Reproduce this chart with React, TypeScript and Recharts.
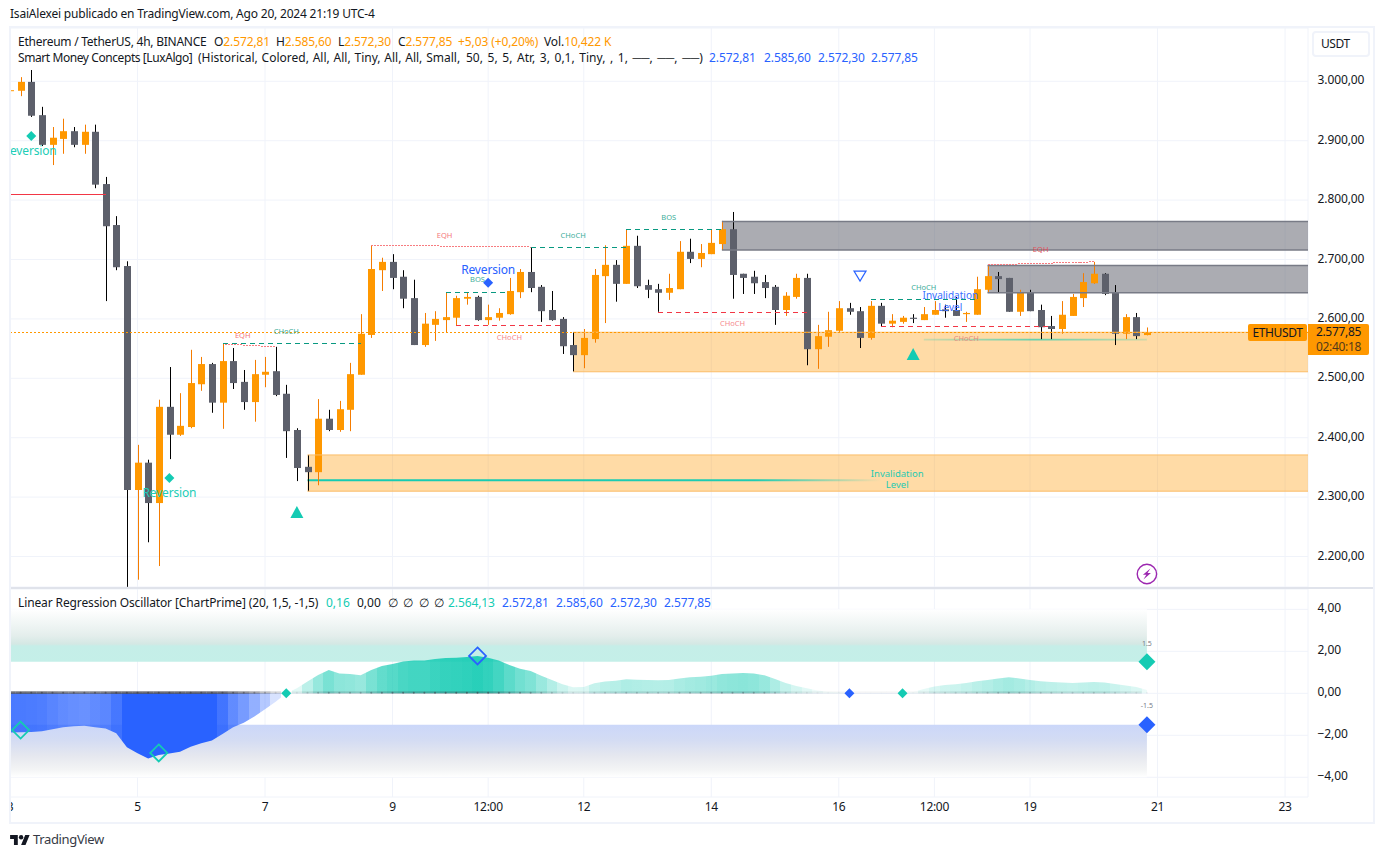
import {
  Area,
  Bar,
  CartesianGrid,
  ComposedChart,
  Line,
  ReferenceArea,
  ReferenceDot,
  ReferenceLine,
  XAxis,
  YAxis,
} from 'recharts';

const opens = [
  2984, 2984, 2999, 2943, 2893, 2903, 2916, 2893, 2915, 2827, 2758, 2689, 2312, 2358, 2290, 2452, 2405, 2418,
  2490, 2524, 2459, 2529, 2494, 2460, 2506, 2512, 2474, 2413, 2351, 2342, 2432, 2413, 2447, 2506, 2573, 2682,
  2696, 2671, 2635, 2556, 2590, 2598, 2602, 2634, 2637, 2598, 2602, 2608, 2645, 2679, 2654, 2615, 2600, 2556,
  2539, 2566, 2672, 2691, 2659, 2723, 2657, 2650, 2644, 2650, 2713, 2701, 2709, 2726, 2751, 2676, 2671, 2662,
  2654, 2615, 2637, 2669, 2549, 2570, 2580, 2618, 2613, 2568, 2622, 2592, 2595, 2602, 2598, 2607, 2616, 2615,
  2608, 2607, 2649, 2672, 2669, 2612, 2645, 2615, 2588, 2583, 2605, 2635, 2660, 2676, 2644, 2575, 2603, 2572.81,
];
const highs = [
  2997, 3007, 3019, 2957, 2923, 2937, 2923, 2927, 2927, 2839, 2773, 2697, 2388, 2363, 2464, 2519, 2475, 2548,
  2536, 2526, 2558, 2551, 2514, 2531, 2536, 2553, 2489, 2416, 2371, 2465, 2447, 2462, 2526, 2608, 2724, 2703,
  2709, 2682, 2666, 2610, 2613, 2645, 2639, 2644, 2639, 2624, 2618, 2669, 2684, 2721, 2657, 2647, 2603, 2578,
  2583, 2684, 2724, 2699, 2751, 2740, 2666, 2659, 2676, 2731, 2735, 2726, 2751, 2765, 2780, 2676, 2681, 2674,
  2657, 2645, 2676, 2676, 2590, 2612, 2630, 2627, 2620, 2630, 2627, 2608, 2605, 2608, 2620, 2630, 2624, 2637,
  2612, 2671, 2691, 2679, 2669, 2649, 2649, 2624, 2605, 2630, 2642, 2677, 2696, 2677, 2657, 2608, 2610, 2585.6,
];
const lows = [
  2962, 2975, 2940, 2891, 2859, 2878, 2889, 2878, 2820, 2630, 2682, 2149, 2161, 2224, 2184, 2364, 2403, 2416,
  2479, 2442, 2415, 2482, 2447, 2427, 2485, 2470, 2366, 2327, 2310, 2320, 2411, 2410, 2411, 2506, 2568, 2647,
  2650, 2618, 2556, 2553, 2563, 2578, 2588, 2624, 2597, 2590, 2597, 2607, 2635, 2645, 2595, 2597, 2541, 2511,
  2517, 2560, 2593, 2629, 2659, 2652, 2635, 2612, 2632, 2650, 2694, 2687, 2709, 2716, 2634, 2642, 2642, 2635,
  2590, 2605, 2634, 2522, 2516, 2553, 2578, 2607, 2551, 2565, 2588, 2586, 2592, 2593, 2598, 2607, 2602, 2605,
  2595, 2607, 2644, 2645, 2612, 2605, 2613, 2566, 2566, 2575, 2605, 2620, 2659, 2640, 2556, 2566, 2566, 2572.3,
];
const closes = [
  2985, 2999, 2942, 2893, 2905, 2916, 2893, 2915, 2826, 2756, 2687, 2312, 2358, 2290, 2452, 2405, 2420, 2492,
  2524, 2459, 2529, 2492, 2460, 2507, 2511, 2472, 2411, 2349, 2342, 2432, 2413, 2448, 2507, 2575, 2684, 2696,
  2669, 2634, 2556, 2592, 2600, 2603, 2635, 2637, 2598, 2603, 2610, 2647, 2679, 2652, 2613, 2598, 2554, 2539,
  2568, 2674, 2691, 2659, 2723, 2655, 2649, 2644, 2652, 2713, 2701, 2711, 2728, 2751, 2674, 2669, 2660, 2652,
  2615, 2639, 2669, 2549, 2571, 2581, 2618, 2612, 2568, 2622, 2592, 2597, 2602, 2600, 2608, 2615, 2613, 2605,
  2610, 2650, 2672, 2667, 2612, 2645, 2613, 2586, 2583, 2607, 2637, 2662, 2676, 2642, 2575, 2603, 2571, 2577.85,
];
const oscillator = [
  -1.87, -1.86, -1.84, -1.81, -1.71, -1.62, -1.57, -1.54, -1.62, -1.68, -1.9, -2.57, -2.86, -3.11, -2.94, -2.87,
  -2.78, -2.54, -2.38, -2.25, -1.94, -1.62, -1.4, -1.11, -0.76, -0.4, 0, 0.24, 0.56, 0.87, 1.11, 0.95, 0.92, 0.86,
  1.11, 1.3, 1.4, 1.51, 1.56, 1.56, 1.63, 1.68, 1.7, 1.73, 1.78, 1.7, 1.56, 1.35, 1.17, 1.06, 0.84, 0.63, 0.43,
  0.29, 0.3, 0.48, 0.56, 0.6, 0.67, 0.65, 0.63, 0.62, 0.63, 0.71, 0.76, 0.79, 0.84, 0.92, 0.95, 0.97, 0.94, 0.86,
  0.68, 0.49, 0.35, 0.24, 0.14, 0.08, 0.06, 0.02, -0.02, -0.03, -0.03, -0.02, 0, 0.06, 0.21, 0.33, 0.4, 0.43, 0.49,
  0.57, 0.63, 0.71, 0.76, 0.71, 0.63, 0.57, 0.54, 0.51, 0.49, 0.52, 0.54, 0.52, 0.44, 0.37, 0.3, 0.16,
];

const timeLabels: Record<number, string> = {
  0: '3', 12: '5', 24: '7', 36: '9', 45: '12:00', 54: '12', 66: '14', 78: '16', 87: '12:00', 96: '19', 108: '21', 120: '23',
};
const timeTicks = Object.keys(timeLabels).map(Number);
const priceTicks = [2200, 2300, 2400, 2500, 2600, 2700, 2800, 2900, 3000];
const oscTicks = [-4, -2, 0, 2, 4];

const LAST = 107;
const X_MAX = 122.16;
const LAST_PRICE = 2577.85;

// supply / demand boxes
const grayZones = [
  { from: 67, top: 2764, bottom: 2716 },
  { from: 92, top: 2690, bottom: 2644 },
];
const orangeZones = [
  { from: 53, top: 2577.5, bottom: 2511 },
  { from: 28, top: 2371, bottom: 2310 },
];

const TEAL = '#089981';
const RED = '#f23645';
const PINK = '#f77c80';
const levels = [
  { from: 0, to: 9, a: 2810, b: 2810, color: RED, dash: undefined },
  { from: 20, to: 25, a: 2558, b: 2553, color: PINK, dash: '2 1' },
  { from: 20, to: 33, a: 2558, b: 2558, color: TEAL, dash: '5 4' },
  { from: 34, to: 49, a: 2724, b: 2721, color: PINK, dash: '2 1' },
  { from: 49, to: 58, a: 2721, b: 2721, color: TEAL, dash: '5 4' },
  { from: 58, to: 67, a: 2751, b: 2751, color: TEAL, dash: '5 4' },
  { from: 41, to: 47, a: 2645, b: 2645, color: TEAL, dash: '5 4' },
  { from: 42, to: 52, a: 2589, b: 2589, color: RED, dash: '5 4' },
  { from: 61, to: 75, a: 2611, b: 2611, color: RED, dash: '5 4' },
  { from: 81, to: 91, a: 2632, b: 2632, color: TEAL, dash: '5 4' },
  { from: 82, to: 98, a: 2588, b: 2588, color: RED, dash: '5 4' },
  { from: 92, to: 102, a: 2691, b: 2696, color: PINK, dash: '2 1' },
];

const tinyLabels = [
  { i: 21.9, price: 2572, text: 'EQH', color: '#f4777c' },
  { i: 26, price: 2578.5, text: 'CHoCH', color: '#3eae9a' },
  { i: 40.9, price: 2741, text: 'EQH', color: '#f4777c' },
  { i: 53, price: 2741, text: 'CHoCH', color: '#3eae9a' },
  { i: 62, price: 2771, text: 'BOS', color: '#3eae9a' },
  { i: 44, price: 2667, text: 'BOS', color: '#3eae9a' },
  { i: 47, price: 2569, text: 'CHoCH', color: '#f58a8f' },
  { i: 68, price: 2593, text: 'CHoCH', color: '#f58a8f' },
  { i: 86, price: 2653, text: 'CHoCH', color: '#3eae9a' },
  { i: 90, price: 2567, text: 'CHoCH', color: '#e58a7e' },
  { i: 97, price: 2717, text: 'EQH', color: '#e0505c' },
];

const textLabels = [
  { i: 1.85, price: 2883, lines: ['Reversion'], color: '#22cdb6', size: 12 },
  { i: 15, price: 2308, lines: ['Reversion'], color: '#22cdb6', size: 12 },
  { i: 45, price: 2683, lines: ['Reversion'], color: '#2962ff', size: 12 },
  { i: 83.5, price: 2339, lines: ['Invalidation', 'Level'], color: '#1fcab2', size: 9.5 },
  { i: 88.5, price: 2639, lines: ['Invalidation', 'Level'], color: '#3a70ff', size: 10 },
];

const priceMarkers = [
  { i: 2, price: 2908, kind: 'smallTeal' },
  { i: 15, price: 2332, kind: 'smallTeal' },
  { i: 45, price: 2661, kind: 'smallBlue' },
  { i: 27, price: 2275, kind: 'triUp' },
  { i: 85, price: 2541, kind: 'triUp' },
  { i: 80, price: 2672, kind: 'triDown' },
  { i: 107, price: 2170.6, kind: 'bolt' },
];

const oscMarkers = [
  { i: 1, value: -1.75, kind: 'hollowTeal' },
  { i: 14, value: -2.84, kind: 'hollowTeal' },
  { i: 44, value: 1.78, kind: 'hollowBlue' },
  { i: 26, value: 0, kind: 'smallTeal' },
  { i: 79, value: 0, kind: 'smallBlue' },
  { i: 84, value: 0, kind: 'smallTeal' },
  { i: 107, value: 1.5, kind: 'bigTeal' },
  { i: 107, value: -1.5, kind: 'bigBlue' },
];

const candles = opens.map((o, k) => ({ i: k, open: o, high: highs[k], low: lows[k], close: closes[k] }));
const oscRows = oscillator.map((v, k) => ({ i: k, value: v, zero: 0 }));

const FONT = '"Noto Sans", sans-serif';
const INK = '#131722';
const ORANGE = '#ff9800';
const BLUE = '#2962ff';
const OSC_TEAL = '#14cbb3';

const Candle = (props: any) => {
  const { x, y, width, height, payload } = props;
  const up = payload.close >= payload.open;
  const perUnit = height / (payload.high - payload.low || 1);
  const top = y + (payload.high - Math.max(payload.open, payload.close)) * perUnit;
  const bodyH = Math.max(Math.abs(payload.open - payload.close) * perUnit, 1);
  const cx = Math.round(x + width / 2);
  return (
    <g>
      <rect x={cx} y={y} width={1} height={height} fill={up ? '#f57c00' : '#000000'} />
      <rect x={cx - 3} y={top} width={7} height={bodyH} fill={up ? ORANGE : '#5d606b'} />
    </g>
  );
};

const diamond = (cx: number, cy: number, r: number) =>
  `${cx},${cy - r} ${cx + r},${cy} ${cx},${cy + r} ${cx - r},${cy}`;

const Marker = ({ cx, cy, kind }: any) => {
  switch (kind) {
    case 'smallTeal':
      return <polygon points={diamond(cx, cy, 5)} fill={OSC_TEAL} />;
    case 'smallBlue':
      return <polygon points={diamond(cx, cy, 5)} fill={BLUE} />;
    case 'bigTeal':
      return <polygon points={diamond(cx, cy, 8.5)} fill={OSC_TEAL} />;
    case 'bigBlue':
      return <polygon points={diamond(cx, cy, 8.5)} fill={BLUE} />;
    case 'hollowTeal':
      return <polygon points={diamond(cx, cy, 8.5)} fill="none" stroke={OSC_TEAL} strokeWidth={1.8} />;
    case 'hollowBlue':
      return <polygon points={diamond(cx, cy, 8.5)} fill="none" stroke={BLUE} strokeWidth={1.8} />;
    case 'triUp':
      return <polygon points={`${cx},${cy - 6} ${cx + 6.5},${cy + 6} ${cx - 6.5},${cy + 6}`} fill={OSC_TEAL} />;
    case 'triDown':
      return (
        <polygon
          points={`${cx - 6},${cy - 5} ${cx + 6},${cy - 5} ${cx},${cy + 5}`}
          fill="none"
          stroke={BLUE}
          strokeWidth={1.2}
        />
      );
    case 'bolt':
      return (
        <g>
          <circle cx={cx} cy={cy} r={9.7} fill="#ffffff" stroke="#9c27b0" strokeWidth={1.4} />
          <path
            d={`M${cx + 3.5},${cy - 5.5} L${cx - 4},${cy + 0.8} L${cx - 0.6},${cy + 0.8} L${cx - 3.5},${cy + 5.5} L${cx + 4},${cy - 1} L${cx + 0.6},${cy - 1} Z`}
            fill="#9c27b0"
          />
        </g>
      );
    default:
      return null;
  }
};

const LabelText = ({ cx, cy, lines, color, size }: any) => (
  <text
    x={cx}
    y={cy + size * 0.36}
    textAnchor="middle"
    fontFamily={FONT}
    fontSize={size}
    fill={color}
    letterSpacing={size >= 12 ? -0.15 : 0}
  >
    {lines.map((line: string, k: number) => (
      <tspan key={k} x={cx} dy={k === 0 ? 0 : size + 1.5}>
        {line}
      </tspan>
    ))}
  </text>
);

const ZeroTick = ({ cx, cy, payload, index }: any) => {
  const strength = Math.min(1, Math.abs(payload.value) / 1.9);
  const base = payload.value < 0 ? 0.75 : 0.3;
  return (
    <g>
      {index < LAST && (
        <rect x={cx - 5.3} y={cy - 2} width={10.7} height={2.6} fill="#434651" opacity={base * strength + 0.04} />
      )}
      <circle cx={cx} cy={cy - 0.6} r={1} fill="#434651" opacity={0.75 * strength} />
    </g>
  );
};

const priceLabel = (v: number) => `${Math.floor(v / 1000)}.${String(v % 1000).padStart(3, '0')},00`;
const oscLabel = (v: number) => `${v < 0 ? '\u2212' : ''}${Math.abs(v).toFixed(2).replace('.', ',')}`;

const SideTick = ({ y, payload, format }: any) => (
  <text
    x={1317.5}
    y={y - 1.5}
    dominantBaseline="central"
    fontFamily={FONT}
    fontSize={12}
    fill={INK}
    letterSpacing={-0.1}
  >
    {format(payload.value)}
  </text>
);

const TimeTick = ({ x, payload }: any) => (
  <text x={x} y={797 - 589 + 14} textAnchor="middle" fontFamily={FONT} fontSize={12} fill={INK} letterSpacing={-0.3}>
    {timeLabels[payload.value]}
  </text>
);

const Txt = ({ x, y, color = INK, size = 12, spacing = 0, words = 0, children }: any) => (
  <div
    style={{
      position: 'absolute',
      left: x,
      top: y - 8,
      height: 16,
      lineHeight: '16px',
      fontSize: size,
      color,
      whiteSpace: 'nowrap',
      letterSpacing: spacing,
      wordSpacing: words,
    }}
  >
    {children}
  </div>
);

const PriceChart = () => (
  <ComposedChart
    width={1373}
    height={559}
    data={candles}
    margin={{ top: 0, right: 0, bottom: 0, left: 10 }}
    style={{ position: 'absolute', left: 0, top: 28 }}
  >
    <CartesianGrid stroke="#f0f3fa" strokeWidth={1} />
    <XAxis dataKey="i" type="number" scale="linear" domain={[0, X_MAX]} ticks={timeTicks} hide />
    <YAxis
      orientation="right"
      width={65}
      type="number"
      domain={[2148.7, 3089.7]}
      ticks={priceTicks}
      interval={0}
      tick={(p: any) => <SideTick {...p} format={priceLabel} />}
      tickLine={false}
      axisLine={false}
    />
    <defs>
      <linearGradient id="invalidationA" x1="0" y1="0" x2="1" y2="0">
        <stop offset="0%" stopColor="#14cbb3" stopOpacity={1} />
        <stop offset="78%" stopColor="#14cbb3" stopOpacity={0.95} />
        <stop offset="100%" stopColor="#14cbb3" stopOpacity={0} />
      </linearGradient>
      <linearGradient id="invalidationB" x1="0" y1="0" x2="1" y2="0">
        <stop offset="0%" stopColor="#14cbb3" stopOpacity={0.2} />
        <stop offset="50%" stopColor="#14cbb3" stopOpacity={0.65} />
        <stop offset="100%" stopColor="#14cbb3" stopOpacity={0.2} />
      </linearGradient>
    </defs>
    {grayZones.map((z) => (
      <ReferenceArea key={z.from} x1={z.from} x2={X_MAX} y1={z.bottom} y2={z.top} fill="#5d606b" fillOpacity={0.52} stroke="none" />
    ))}
    {orangeZones.map((z) => (
      <ReferenceArea key={z.from} x1={z.from} x2={X_MAX} y1={z.bottom} y2={z.top} fill={ORANGE} fillOpacity={0.35} stroke="none" />
    ))}
    {grayZones.flatMap((z) =>
      [z.top, z.bottom].map((edge) => (
        <ReferenceLine
          key={`${z.from}-${edge}`}
          segment={[{ x: z.from, y: edge }, { x: X_MAX, y: edge }]}
          stroke="#787b86"
          strokeWidth={1.5}
        />
      )),
    )}
    {orangeZones.flatMap((z) =>
      [z.top, z.bottom].map((edge) => (
        <ReferenceLine
          key={`${z.from}-${edge}`}
          segment={[{ x: z.from, y: edge }, { x: X_MAX, y: edge }]}
          stroke="#fbbd68"
          strokeWidth={1}
        />
      )),
    )}
    <Bar dataKey={(d: any) => [d.low, d.high]} barSize={7} shape={Candle} isAnimationActive={false} />
    <ReferenceArea x1={28} x2={82} y1={2326.7} y2={2330} fill="url(#invalidationA)" fillOpacity={1} stroke="none" />
    <ReferenceArea x1={86} x2={LAST} y1={2563.5} y2={2566.5} fill="url(#invalidationB)" fillOpacity={1} stroke="none" />
    <ReferenceLine y={LAST_PRICE} stroke={ORANGE} strokeDasharray="2 2" strokeWidth={1} shapeRendering="crispEdges" />
    {levels.map((l, k) => (
      <ReferenceLine
        key={k}
        segment={[
          { x: l.from, y: l.a },
          { x: l.to, y: l.b },
        ]}
        stroke={l.color}
        strokeDasharray={l.dash}
        strokeWidth={1}
        shapeRendering="crispEdges"
      />
    ))}
    {tinyLabels.map((l, k) => (
      <ReferenceDot
        key={k}
        x={l.i}
        y={l.price}
        r={1}
        shape={(p: any) => <LabelText cx={p.cx} cy={p.cy} lines={[l.text]} color={l.color} size={7.5} />}
      />
    ))}
    {priceMarkers.map((m, k) => (
      <ReferenceDot key={k} x={m.i} y={m.price} r={1} shape={(p: any) => <Marker cx={p.cx} cy={p.cy} kind={m.kind} />} />
    ))}
    {textLabels.map((l, k) => (
      <ReferenceDot
        key={k}
        x={l.i}
        y={l.price}
        r={1}
        shape={(p: any) => <LabelText cx={p.cx} cy={p.cy} lines={l.lines} color={l.color} size={l.size} />}
      />
    ))}
  </ComposedChart>
);

const OscillatorChart = () => (
  <ComposedChart
    width={1373}
    height={232}
    data={oscRows}
    margin={{ top: 0, right: 0, bottom: 0, left: 10 }}
    style={{ position: 'absolute', left: 0, top: 589 }}
  >
    <defs>
      <linearGradient id="bandUp" x1="0" y1="0" x2="0" y2="1">
        <stop offset="0%" stopColor="#ffffff" />
        <stop offset="50%" stopColor="#e4eeec" />
        <stop offset="66%" stopColor="#d4e8e4" />
        <stop offset="70%" stopColor="#c5eee8" />
        <stop offset="100%" stopColor="#c4efe8" />
      </linearGradient>
      <linearGradient id="bandDown" x1="0" y1="0" x2="0" y2="1">
        <stop offset="0%" stopColor="#cbd7f9" />
        <stop offset="30%" stopColor="#d4dcf3" />
        <stop offset="60%" stopColor="#e6e8ef" />
        <stop offset="85%" stopColor="#f3f4f5" />
        <stop offset="100%" stopColor="#ffffff" />
      </linearGradient>
      <linearGradient id="oscFill" x1="0" y1="0" x2="1" y2="0">
        {oscillator.flatMap((v, k) => {
          const color = v >= 0 ? OSC_TEAL : BLUE;
          const opacity = v >= 0 ? Math.min(1, v / 1.95) : Math.min(1, -v / 2.2);
          return [
            <stop key={`${k}a`} offset={Math.max(0, (k - 0.5) / LAST)} stopColor={color} stopOpacity={opacity} />,
            <stop key={`${k}b`} offset={Math.min(1, (k + 0.5) / LAST)} stopColor={color} stopOpacity={opacity} />,
          ];
        })}
      </linearGradient>
    </defs>
    <CartesianGrid stroke="#f0f3fa" strokeWidth={1} />
    <XAxis
      dataKey="i"
      type="number"
      scale="linear"
      domain={[0, X_MAX]}
      ticks={timeTicks}
      interval={0}
      height={24}
      tick={(p: any) => <TimeTick {...p} />}
      tickLine={false}
      axisLine={false}
    />
    <YAxis
      orientation="right"
      width={65}
      type="number"
      domain={[-4.94, 4.97]}
      ticks={oscTicks}
      interval={0}
      tick={(p: any) => <SideTick {...p} format={oscLabel} />}
      tickLine={false}
      axisLine={false}
    />
    <ReferenceArea x1={0} x2={LAST} y1={1.5} y2={4} fill="url(#bandUp)" fillOpacity={1} stroke="none" />
    <ReferenceArea x1={0} x2={LAST} y1={-4} y2={-1.5} fill="url(#bandDown)" fillOpacity={1} stroke="none" />
    <Area
      dataKey="value"
      baseValue={0}
      type="linear"
      stroke="none"
      fill="url(#oscFill)"
      fillOpacity={1}
      dot={false}
      isAnimationActive={false}
    />
    <Line
      dataKey="zero"
      stroke="none"
      dot={(p: any) => <ZeroTick key={p.index} {...p} />}
      activeDot={false}
      isAnimationActive={false}
    />
    {oscMarkers.map((m, k) => (
      <ReferenceDot key={k} x={m.i} y={m.value} r={1} shape={(p: any) => <Marker cx={p.cx} cy={p.cy} kind={m.kind} />} />
    ))}
    <ReferenceDot
      x={LAST}
      y={2.39}
      r={1}
      shape={(p: any) => <LabelText cx={p.cx} cy={p.cy} lines={['1.5']} color="#787b86" size={7} />}
    />
    <ReferenceDot
      x={LAST}
      y={-0.56}
      r={1}
      shape={(p: any) => <LabelText cx={p.cx} cy={p.cy} lines={['-1.5']} color="#787b86" size={7} />}
    />
  </ComposedChart>
);

const App = () => (
  <div style={{ position: 'absolute', left: 0, top: 0, width: 1384, height: 857, background: '#ffffff', fontFamily: FONT, overflow: 'hidden' }}>
    <PriceChart />
    <div style={{ position: 'absolute', left: 10, top: 587, width: 1363, height: 2, background: '#e0e3eb' }} />
    <OscillatorChart />

    {/* frame + strip that clips what pokes out on the left */}
    <div style={{ position: 'absolute', left: 0, top: 28, width: 9, height: 794, background: '#ffffff' }} />
    <div
      style={{
        position: 'absolute',
        left: 9,
        top: 26,
        width: 1362,
        height: 794,
        border: '2px solid #f0f3fa',
        pointerEvents: 'none',
      }}
    />

    <Txt x={10} y={14} spacing={-0.2}>IsaiAlexei publicado en TradingView.com, Ago 20, 2024 21:19 UTC-4</Txt>

    <Txt x={18} y={42} spacing={-0.25}>Ethereum / TetherUS, 4h, BINANCE</Txt>
    <Txt x={214} y={42} spacing={-0.1}>O<span style={{ color: ORANGE }}>2.572,81</span></Txt>
    <Txt x={276} y={42} spacing={-0.1}>H<span style={{ color: ORANGE }}>2.585,60</span></Txt>
    <Txt x={338} y={42} spacing={-0.1}>L<span style={{ color: ORANGE }}>2.572,30</span></Txt>
    <Txt x={398} y={42} spacing={-0.1}>C<span style={{ color: ORANGE }}>2.577,85</span></Txt>
    <Txt x={458} y={42} color={ORANGE} spacing={-0.1}>+5,03 (+0,20%)</Txt>
    <Txt x={544} y={42} spacing={-0.1}>Vol.<span style={{ color: ORANGE }}>10,422 K</span></Txt>

    <Txt x={18} y={58} spacing={-0.42}>Smart Money Concepts [LuxAlgo]</Txt>
    <Txt x={198} y={58} words={0.7}>(Historical, Colored, All, All, Tiny, All, All, Small,</Txt>
    <Txt x={466} y={58} words={1.5}>50, 5, 5, Atr, 3, 0,1, Tiny, , 1, ──, ──, ──)</Txt>
    <Txt x={709} y={58} color={BLUE} spacing={-0.1}>2.572,81</Txt>
    <Txt x={764} y={58} color={BLUE} spacing={-0.1}>2.585,60</Txt>
    <Txt x={818} y={58} color={BLUE} spacing={-0.1}>2.572,30</Txt>
    <Txt x={871} y={58} color={BLUE} spacing={-0.1}>2.577,85</Txt>

    <Txt x={18} y={603} spacing={-0.12}>Linear Regression Oscillator [ChartPrime] (20, 1,5, -1,5)</Txt>
    <Txt x={326} y={603} color={OSC_TEAL}>0,16</Txt>
    <Txt x={357} y={603}>0,00</Txt>
    <Txt x={388} y={603}>∅</Txt>
    <Txt x={403} y={603}>∅</Txt>
    <Txt x={419} y={603}>∅</Txt>
    <Txt x={434} y={603}>∅</Txt>
    <Txt x={448} y={603} color={OSC_TEAL} spacing={-0.1}>2.564,13</Txt>
    <Txt x={502} y={603} color={BLUE} spacing={-0.1}>2.572,81</Txt>
    <Txt x={556} y={603} color={BLUE} spacing={-0.1}>2.585,60</Txt>
    <Txt x={610} y={603} color={BLUE} spacing={-0.1}>2.572,30</Txt>
    <Txt x={664} y={603} color={BLUE} spacing={-0.1}>2.577,85</Txt>

    <div
      style={{
        position: 'absolute',
        left: 1312,
        top: 31,
        width: 47,
        height: 22,
        border: '2px solid #f0f3fa',
        borderRadius: 4,
        fontSize: 12,
        lineHeight: '22px',
        paddingLeft: 7,
        letterSpacing: -0.4,
        color: INK,
      }}
    >
      USDT
    </div>

    <div
      style={{
        position: 'absolute',
        left: 1248,
        top: 324,
        width: 59,
        height: 17,
        lineHeight: '17px',
        background: ORANGE,
        borderRadius: 2,
        textAlign: 'center',
        fontSize: 12,
        letterSpacing: -0.35,
        color: INK,
      }}
    >
      ETHUSDT
    </div>
    <div
      style={{
        position: 'absolute',
        left: 1308,
        top: 324,
        width: 61,
        height: 31,
        background: ORANGE,
        borderRadius: '0 2px 2px 0',
        textAlign: 'center',
        fontSize: 12,
        lineHeight: '15px',
        letterSpacing: -0.3,
        color: INK,
      }}
    >
      <div>2.577,85</div>
      <div style={{ opacity: 0.75 }}>02:40:18</div>
    </div>

    <svg style={{ position: 'absolute', left: 10, top: 834 }} width={20} height={11} viewBox="0 0 36 20">
      <path d="M14 20H7V9H0V2h14v18zM28 20h-8l7.5-18H35.5L28 20z" fill={INK} />
      <circle cx="20" cy="6" r="4" fill={INK} />
    </svg>
    <Txt x={33} y={839} color="#363a45" size={13} spacing={-0.35}>TradingView</Txt>
  </div>
);

export default App;
